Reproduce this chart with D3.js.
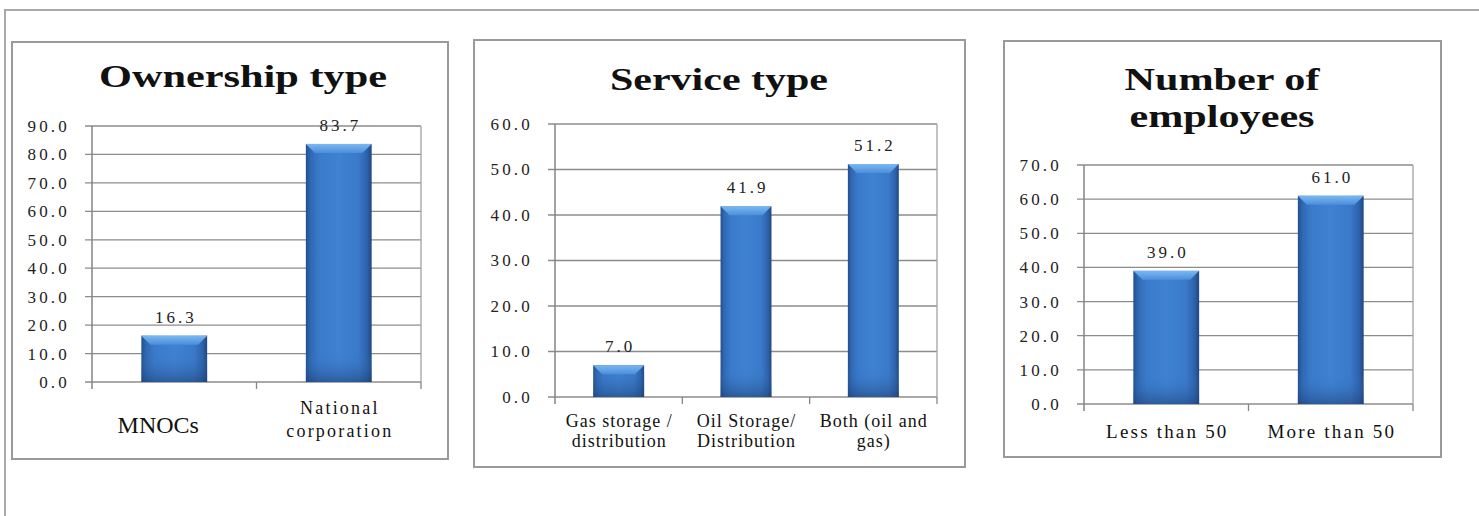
<!DOCTYPE html>
<html lang="en">
<head>
    <script src="https://d3js.org/d3.v7.min.js"></script>
    <meta charset="UTF-8">
    <title>Ownership, service type and employees</title>
</head>
<style>
    body{
        margin: 0;
        background: #fff;
    }
    text{
        font-family: "Liberation Serif", "Times New Roman", serif;
        fill: #111;
    }
</style>
<body>
    <div id='grafico'></div>
</body>
<script>
    // dados
    var ownershipCats = [['MNOCs'], ['National', 'corporation']]
    var ownershipValues = [16.3, 83.7]
    var ownershipTicks = [0, 10, 20, 30, 40, 50, 60, 70, 80, 90]

    var serviceCats = [['Gas storage /', 'distribution'], ['Oil Storage/', 'Distribution'], ['Both (oil and', 'gas)']]
    var serviceValues = [7.0, 41.9, 51.2]
    var serviceTicks = [0, 10, 20, 30, 40, 50, 60]

    var employeeCats = [['Less than 50'], ['More than 50']]
    var employeeValues = [39.0, 61.0]
    var employeeTicks = [0, 10, 20, 30, 40, 50, 60, 70]

    var svg = d3.select('#grafico')
    .append('svg')
    .attr('width', 1479)
    .attr('height', 516)

    var defs = svg.append('defs')

    var grad = defs.append('linearGradient')
    .attr('id', 'barra')
    .attr('x1', 0).attr('x2', 1).attr('y1', 0).attr('y2', 0)
    grad.selectAll('stop')
    .data([[0, '#234f8c'], [0.07, '#3068b3'], [0.2, '#3a7acb'], [0.5, '#3f82d2'], [0.8, '#3a79c9'], [0.93, '#2d62aa'], [1, '#1f4780']])
    .enter().append('stop')
    .attr('offset', d => d[0])
    .attr('stop-color', d => d[1])

    var bev = defs.append('linearGradient')
    .attr('id', 'bisel')
    .attr('x1', 0).attr('x2', 0).attr('y1', 0).attr('y2', 1)
    bev.append('stop').attr('offset', 0).attr('stop-color', '#7bb8f2')
    bev.append('stop').attr('offset', 1).attr('stop-color', '#4b8edb')

    var fundo = defs.append('linearGradient')
    .attr('id', 'fundo')
    .attr('x1', 0).attr('x2', 0).attr('y1', 0).attr('y2', 1)
    fundo.append('stop').attr('offset', 0).attr('stop-color', '#3d7fcf').attr('stop-opacity', 0)
    fundo.append('stop').attr('offset', 1).attr('stop-color', '#1d3f72').attr('stop-opacity', 0.55)

    // moldura externa
    svg.append('path')
    .attr('d', 'M5,516 L5,10 L1479,10')
    .attr('fill', 'none')
    .attr('stroke', '#a9a9a9')
    .attr('stroke-width', 2)

    var paineis = [
        {cats: ownershipCats, values: ownershipValues, ticks: ownershipTicks,
         box: [12, 42, 448, 459], plot: [92, 126, 421, 382],
         title: ['Ownership type'], titleX: 243, titleY: [87], titleSize: 31, titleLen: [288],
         catY: 414, catGap: 23, catDx: [-16, 0], catSizes: [24, 18], catSpacings: [0, 2.2]},
        {cats: serviceCats, values: serviceValues, ticks: serviceTicks,
         box: [474, 40, 965, 467], plot: [555, 124, 937, 397],
         title: ['Service type'], titleX: 719, titleY: [90], titleSize: 32, titleLen: [218],
         catY: 427, catGap: 20, catDx: [0, 0, 0], catSizes: [18, 18, 18], catSpacings: [1, 1, 1]},
        {cats: employeeCats, values: employeeValues, ticks: employeeTicks,
         box: [1004, 41, 1441, 457], plot: [1084, 165, 1413, 404],
         title: ['Number of', 'employees'], titleX: 1222, titleY: [90, 127], titleSize: 32, titleLen: [195, 185],
         catY: 438, catGap: 20, catDx: [0, 0], catSizes: [19, 19], catSpacings: [2.2, 2.2]}
    ]

    paineis.forEach(function (p) {
        var g = svg.append('g')

        g.append('rect')
        .attr('x', p.box[0])
        .attr('y', p.box[1])
        .attr('width', p.box[2] - p.box[0])
        .attr('height', p.box[3] - p.box[1])
        .attr('fill', '#fff')
        .attr('stroke', '#9a9a9a')
        .attr('stroke-width', 2)

        g.selectAll('.titulo')
        .data(p.title)
        .enter()
        .append('text')
        .attr('class', 'titulo')
        .attr('x', p.titleX)
        .attr('y', (d, i) => p.titleY[i])
        .attr('text-anchor', 'middle')
        .attr('textLength', (d, i) => p.titleLen[i])
        .attr('lengthAdjust', 'spacingAndGlyphs')
        .style('font-size', p.titleSize + 'px')
        .style('font-weight', 'bold')
        .text(d => d)

        var xScale = d3.scaleBand()
        .domain(d3.range(p.values.length))
        .range([p.plot[0], p.plot[2]])
        .paddingInner(0.6)
        .paddingOuter(0.3)

        var yScale = d3.scaleLinear()
        .domain([0, d3.max(p.ticks)])
        .range([p.plot[3], p.plot[1]])

        var passo = xScale.step()

        // grade
        g.selectAll('.grade')
        .data(p.ticks)
        .enter()
        .append('line')
        .attr('class', 'grade')
        .attr('x1', p.plot[0] - 7)
        .attr('x2', p.plot[2])
        .attr('y1', d => yScale(d))
        .attr('y2', d => yScale(d))
        .attr('stroke', '#8c8c8c')
        .attr('stroke-width', 1.3)

        g.append('line')
        .attr('x1', p.plot[2]).attr('x2', p.plot[2])
        .attr('y1', yScale(d3.max(p.ticks))).attr('y2', yScale(0))
        .attr('stroke', '#a3a3a3')
        .attr('stroke-width', 1.3)

        g.append('line')
        .attr('x1', p.plot[0]).attr('x2', p.plot[0])
        .attr('y1', yScale(d3.max(p.ticks))).attr('y2', yScale(0) + 7)
        .attr('stroke', '#858585')
        .attr('stroke-width', 1.5)

        g.selectAll('.marca')
        .data(d3.range(1, p.values.length + 1))
        .enter()
        .append('line')
        .attr('class', 'marca')
        .attr('x1', d => p.plot[0] + d * passo)
        .attr('x2', d => p.plot[0] + d * passo)
        .attr('y1', yScale(0))
        .attr('y2', yScale(0) + 7)
        .attr('stroke', '#858585')
        .attr('stroke-width', 1.3)

        g.selectAll('.rotuloY')
        .data(p.ticks)
        .enter()
        .append('text')
        .attr('class', 'rotuloY')
        .attr('x', p.plot[0] - 22)
        .attr('y', d => yScale(d))
        .attr('dy', '0.35em')
        .attr('text-anchor', 'end')
        .style('font-size', '17px')
        .style('letter-spacing', '3.2px')
        .style('fill', '#222')
        .text(d => d3.format('.1f')(d))

        // barras
        var barras = g.selectAll('.barra')
        .data(p.values)
        .enter()
        .append('g')
        .attr('class', 'barra')

        barras.append('rect')
        .attr('x', (d, i) => xScale(i))
        .attr('y', d => yScale(d))
        .attr('width', xScale.bandwidth())
        .attr('height', d => yScale(0) - yScale(d))
        .attr('fill', 'url(#barra)')

        barras.append('rect')
        .attr('x', (d, i) => xScale(i))
        .attr('y', d => yScale(0) - Math.min(30, yScale(0) - yScale(d)))
        .attr('width', xScale.bandwidth())
        .attr('height', d => Math.min(30, yScale(0) - yScale(d)))
        .attr('fill', 'url(#fundo)')

        barras.append('path')
        .attr('d', function (d, i) {
            var x0 = xScale(i), x1 = x0 + xScale.bandwidth(), y0 = yScale(d), b = 9
            return 'M' + x0 + ',' + y0 + 'L' + x1 + ',' + y0 + 'L' + (x1 - b) + ',' + (y0 + b) + 'L' + (x0 + b) + ',' + (y0 + b) + 'Z'
        })
        .attr('fill', 'url(#bisel)')

        barras.append('text')
        .attr('x', (d, i) => xScale(i) + xScale.bandwidth() / 2 + 1.5)
        .attr('y', d => yScale(d) - 13)
        .attr('text-anchor', 'middle')
        .style('font-size', '17px')
        .style('letter-spacing', '3px')
        .style('fill', '#222')
        .text(d => d3.format('.1f')(d))

        // categorias
        p.cats.forEach(function (linhas, i) {
            var cx = xScale(i) + xScale.bandwidth() / 2 + p.catDx[i]
            var t = g.append('text')
            .attr('text-anchor', 'middle')
            .style('font-size', p.catSizes[i] + 'px')
            .style('letter-spacing', p.catSpacings[i] + 'px')
            linhas.forEach(function (l, j) {
                var y = linhas.length == 1 ? p.catY + (p.cats.some(c => c.length > 1) ? 19 : 0) : p.catY + j * p.catGap
                t.append('tspan')
                .attr('x', cx + p.catSpacings[i] / 2)
                .attr('y', y)
                .text(l)
            })
        })
    })
</script>
</html>
